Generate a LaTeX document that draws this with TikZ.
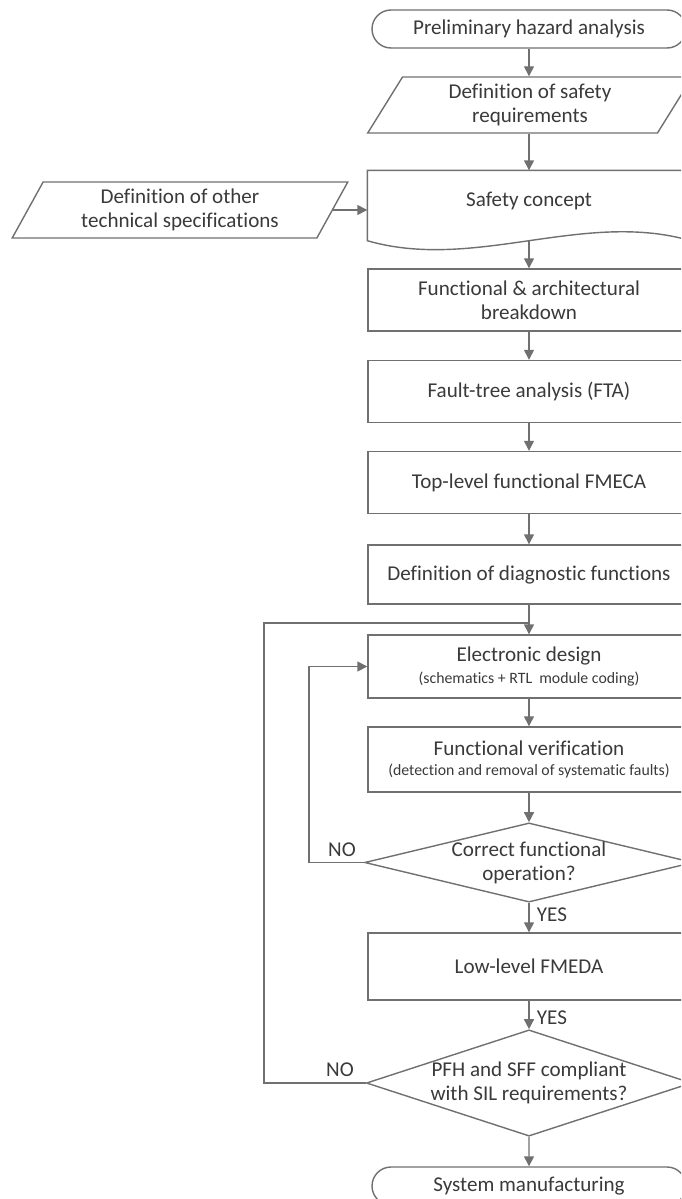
\documentclass[tikz,border=0pt]{standalone}
\usepackage{fontspec}
\setmainfont{Carlito}[Ligatures=NoCommon]
\usepackage{tikz}
\usepackage{color}
\usetikzlibrary{positioning, calc}
\usetikzlibrary{shapes.misc, shapes.geometric, arrows.meta}
\definecolor{linegray}{RGB}{112,112,112}
\definecolor{textgray}{RGB}{58,58,58}
\newcommand{\subline}[1]{{\fontsize{9}{11}\selectfont #1}}
\tikzset{
    base/.style = {draw=linegray, line width=0.8pt, text=textgray, align=center,
        font=\fontsize{12}{13.6}\selectfont, inner sep=0pt},
    proc/.style = {base, rectangle, minimum width=6.44cm, minimum height=1.24cm},
    term/.style = {base, rounded rectangle, minimum width=6.28cm, minimum height=0.76cm},
    iobox/.style = {base, trapezium, trapezium left angle=62, trapezium right angle=118,
        trapezium stretches=true, minimum height=1.12cm},
    decision/.style = {base, diamond},
    flow/.style = {draw=linegray, line width=0.8pt, -{Triangle[length=2mm,width=2mm]}},
    link/.style = {draw=linegray, line width=0.8pt},
    lbl/.style = {text=textgray, font=\fontsize{12}{13.6}\selectfont}
}

\begin{document}
\begin{tikzpicture}
    \useasboundingbox (0,0) rectangle (13.62,-23.98);
    \clip (0,0) rectangle (13.62,-23.98);
    \node[term] (prel) at (10.58,-0.58) {Preliminary hazard analysis};
    \node[iobox, minimum width=6.5cm] (req) at (10.6,-2.1) {Definition of safety\\requirements};
    \node[proc, draw=none, minimum height=1.2cm] (conc) at (10.58,-4.02) {Safety concept};
    \node[iobox, minimum width=6.72cm] (other) at (3.6,-4.2) {Definition of other\\technical specifications};
    \node[proc] (arch) at (10.58,-6.0) {Functional \& architectural\\breakdown};
    \node[proc] (fta) at (10.58,-7.83) {Fault-tree analysis (FTA)};
    \node[proc] (fmeca) at (10.58,-9.65) {Top-level functional FMECA};
    \node[proc, minimum height=1.18cm] (diag) at (10.58,-11.49) {Definition of diagnostic functions};
    \node[proc, minimum height=1.26cm] (edes) at (10.58,-13.33) {Electronic design\\[-1pt]\subline{(schematics + RTL\ \ module coding)}};
    \node[proc, minimum height=1.3cm] (fver) at (10.58,-15.19) {Functional verification\\[-2pt]\subline{(detection and removal of systematic faults)}};
    \node[decision, aspect=4.15, minimum width=6.56cm, minimum height=1.58cm] (dec1) at (10.58,-17.25) {Correct functional\\operation?};
    \node[proc, minimum height=1.34cm] (fmeda) at (10.58,-19.33) {Low-level FMEDA};
    \node[decision, aspect=3.06, minimum width=6.48cm, minimum height=2.12cm] (dec2) at (10.58,-21.66) {PFH and SFF compliant\\with SIL requirements?};
    \node[term] (manu) at (10.58,-23.72) {System manufacturing};

    \coordinate (cL) at ($(conc.south west)+(0,-0.18)$);
    \coordinate (cR) at ($(conc.south east)+(0,-0.18)$);
    \coordinate (cbot) at ($(conc.south)+(0,-0.18)$);
    \draw[link] (cR) -- (conc.north east) -- (conc.north west) -- (cL)
        .. controls +(2.15,-0.62) and +(-2.15,0.62) .. (cR);

    \coordinate (join) at (10.58,-12.46);
    \coordinate (outer) at (5.28,-12.46);
    \coordinate (inner) at (6.18,-13.33);

    \draw[flow] (prel.south) -- (prel.south |- req.north);
    \draw[flow] (prel.south |- req.south) -- (conc.north);
    \draw[flow] (other.east) -- (other.east -| conc.west);
    \draw[flow] (cbot) -- (arch.north);
    \draw[flow] (arch) -- (fta);
    \draw[flow] (fta) -- (fmeca);
    \draw[flow] (fmeca) -- (diag);
    \draw[flow] (diag) -- (edes);
    \draw[flow] (edes) -- (fver);
    \draw[flow] (fver) -- (dec1);
    \draw[flow] (dec1) -- (fmeda);
    \draw[flow] (fmeda) -- (dec2);
    \draw[flow] (dec2) -- (manu);
    \draw[flow] (dec1.west) -| (inner) -- (edes.west);
    \draw[link] (dec2.west) -| (outer) -- (join);

    \node[lbl] (no1) at (6.84,-17.0) {NO};
    \node[lbl] (no2) at (6.8,-21.4) {NO};
    \node[lbl] (yes1) at (11.04,-18.3) {YES};
    \node[lbl] (yes2) at (11.04,-20.36) {YES};
\end{tikzpicture}
\end{document}
